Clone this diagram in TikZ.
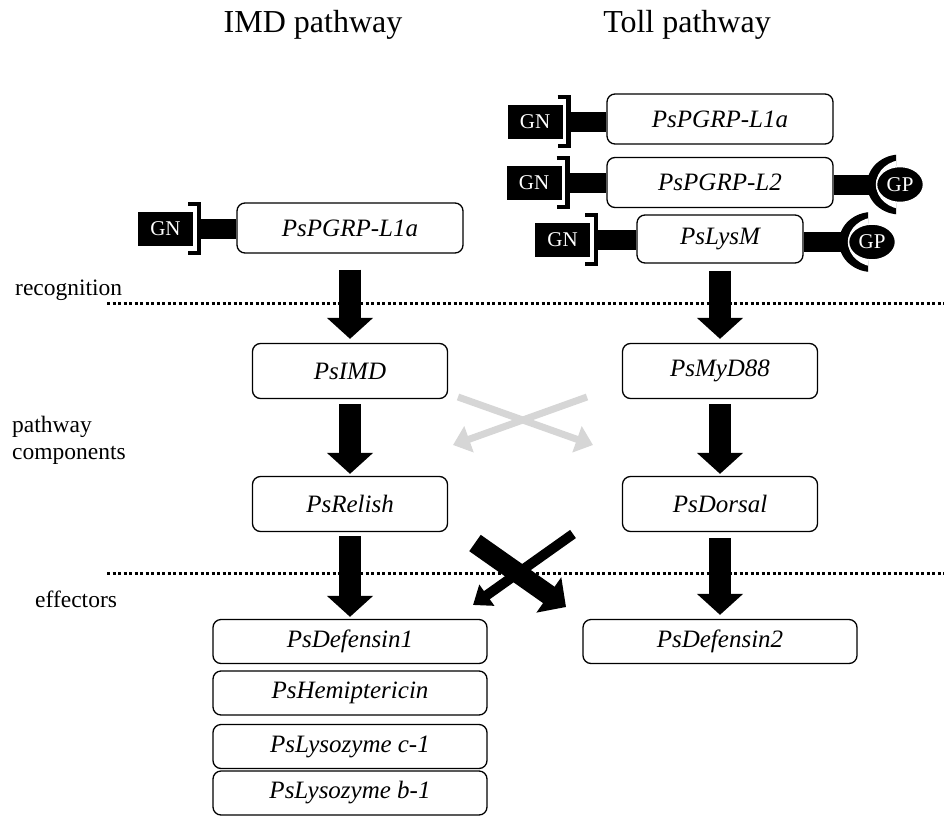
\documentclass[tikz,border=0pt]{standalone}
\usepackage{fontspec}
\setmainfont{Liberation Serif}
\usetikzlibrary{arrows.meta,shapes.geometric}
\definecolor{crossgray}{RGB}{214,214,214}

% GN binding site left of a receptor: #1 = GN node, #2 = receptor node
\newcommand{\gnsite}[2]{%
  \draw[bar] ([xshift=6pt]#1.east) -- (#1.east -| #2.west);
  \draw[bracket] ([xshift=-5pt,yshift=7.5pt]#1.north east) -- ([xshift=6pt,yshift=7.5pt]#1.north east)
    -- ([xshift=6pt,yshift=-7.5pt]#1.south east) -- ([xshift=-5pt,yshift=-7.5pt]#1.south east);
}
% GP binding site right of a receptor: #1 = GP node, #2 = position, #3 = receptor node
\newcommand{\gpsite}[3]{%
  \coordinate (#1c) at (#2);
  \draw[bar] (#3.east |- #1c) -- ([xshift=-28pt]#1c);
  \begin{scope}
    \clip ([xshift=-40pt,yshift=-40pt]#1c) rectangle ([xshift=-4pt,yshift=40pt]#1c);
    \fill (#1c) ellipse [x radius=33pt, y radius=30pt];
    \fill[white] ([xshift=5pt]#1c) ellipse [x radius=29pt, y radius=25pt];
  \end{scope}
  \node[gp] (#1) at (#1c) {GP};
}

\begin{document}
\begin{tikzpicture}[x=1pt,y=-1pt,
  gene/.style={draw, line width=1.3pt, rounded corners=8pt, inner sep=0pt,
    font=\fontsize{25}{28}\selectfont\itshape},
  rec/.style={gene, minimum width=226pt, minimum height=50pt},
  mid/.style={gene, minimum width=195pt, minimum height=55pt},
  eff/.style={gene, minimum width=274pt, minimum height=44pt},
  gn/.style={fill=black, text=white, minimum width=55pt, minimum height=34pt, inner sep=0pt,
    font=\fontsize{21}{21}\selectfont},
  gp/.style={ellipse, fill=black, draw=white, line width=1.5pt, text=white, minimum width=47pt,
    minimum height=36pt, inner sep=0pt, font=\fontsize{21}{21}\selectfont},
  bar/.style={line width=20pt},
  bracket/.style={line width=4.5pt, miter limit=10},
  bigarrow/.style={line width=22pt, -{Triangle[width=45pt,length=21pt]}, shorten <=5pt, shorten >=2pt},
  crossthick/.style={line width=20pt, -{Triangle[width=42pt,length=21pt]}},
  crossthin/.style={line width=10pt, -{Triangle[width=25pt,length=17pt]}},
  crossfaint/.style={crossgray, line width=7pt, -{Triangle[width=27pt,length=17pt]}},
  sepline/.style={line width=3pt, dash pattern=on 3pt off 2.5pt},
  lab/.style={inner sep=0pt, font=\fontsize{23.5}{27}\selectfont},
  title/.style={inner sep=0pt, font=\fontsize{32}{36}\selectfont}]
\useasboundingbox (0,0) rectangle (944,816);

\node[title, anchor=base] (imdtitle) at (313,33) {IMD pathway};
\node[title, anchor=base] (tolltitle) at (687,33) {Toll pathway};

\node[lab, anchor=base west] (recog) at (15,295) {recognition};
\node[lab, anchor=north west, align=left] (pathcomp) at (12,416) {pathway\\components};
\node[lab, anchor=base west] (effect) at (35,607) {effectors};

\draw[sepline] (107,303) -- (944,303);
\draw[sepline] (107,573) -- (944,573);

% IMD pathway
\node[rec] (imdrec) at (350,228) {PsPGRP-L1a};
\node[gn] (gnL) at (165.5,228.5) {GN};
\gnsite{gnL}{imdrec}
\node[mid] (imd) at (350,371) {PsIMD};
\node[mid] (relish) at (350,504) {PsRelish};
\node[eff] (def1) at (350,641.5) {PsDefensin1};
\node[eff] (hemi) at (350,693) {PsHemiptericin};
\node[eff] (lysc) at (350,746.5) {PsLysozyme c-1};
\node[eff] (lysb) at (350,793) {PsLysozyme b-1};

% Toll pathway
\node[rec] (recA) at (720,119) {PsPGRP-L1a};
\node[rec] (recB) at (720,182.5) {PsPGRP-L2};
\node[gene, minimum width=166pt, minimum height=48pt] (lysm) at (720,239) {PsLysM};
\node[gn] (gnA) at (535,121.5) {GN};
\node[gn] (gnB) at (534,182.5) {GN};
\node[gn] (gnC) at (562.5,239.5) {GN};
\gnsite{gnA}{recA}
\gnsite{gnB}{recB}
\gnsite{gnC}{lysm}
\gpsite{gpB}{900,184.5}{recB}
\gpsite{gpC}{872,242}{lysm}
\node[mid] (myd) at (720,371) {PsMyD88};
\node[mid] (dorsal) at (720,504) {PsDorsal};
\node[eff] (def2) at (720,641.5) {PsDefensin2};

\draw[bigarrow, shorten <=16pt, shorten >=4pt] (imdrec.south) -- (imd.north);
\draw[bigarrow] (imd.south) -- (relish.north);
\draw[bigarrow, shorten <=4pt] (relish.south) -- (def1.north);
\draw[bigarrow, shorten <=7pt, shorten >=4pt] (lysm.south) -- (myd.north);
\draw[bigarrow] (myd.south) -- (dorsal.north);
\draw[bigarrow, shorten <=6pt, shorten >=4pt] (dorsal.south) -- (def2.north);

% cross-talk
\coordinate (g1s) at (587,397);
\coordinate (g1e) at (453,445);
\coordinate (g2s) at (458,397);
\coordinate (g2e) at (593,445);
\draw[crossfaint] (g1s) -- (g1e);
\draw[crossfaint] (g2s) -- (g2e);
\coordinate (k1s) at (475,543);
\coordinate (k1e) at (566,607);
\coordinate (k2s) at (573,534);
\coordinate (k2e) at (473,605);
\draw[crossthick] (k1s) -- (k1e);
\draw[crossthin] (k2s) -- (k2e);
\end{tikzpicture}
\end{document}
